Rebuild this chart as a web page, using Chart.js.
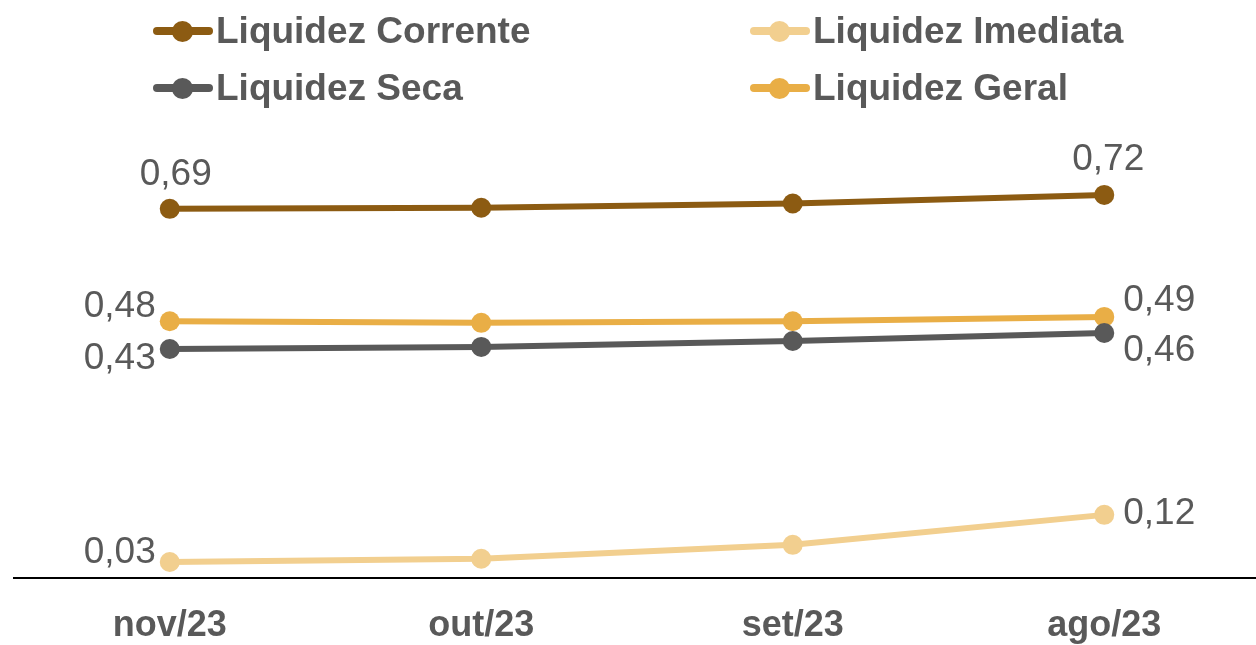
<!DOCTYPE html>
<html>
<head>
<meta charset="utf-8">
<script src="https://cdn.jsdelivr.net/npm/chart.js@4.4.0/dist/chart.umd.min.js"></script>
<style>
    html, body { margin: 0; padding: 0; background: #fff; overflow: hidden; }
    #wrap { position: relative; width: 1256px; height: 645px; overflow: hidden; }
    #legend { position: absolute; left: 0; top: 0; width: 1256px; height: 120px; }
    .leg-item {
        position: absolute; display: flex; align-items: center; height: 40px;
        font-family: 'Liberation Sans', Arial, sans-serif; font-weight: bold;
        font-size: 37px; color: #595959; white-space: nowrap;
    }
    .leg-mark { position: relative; width: 60px; height: 8px; border-radius: 4px; margin-right: 3px; }
    .leg-mark span {
        position: absolute; left: 19px; top: -6.5px; width: 21px; height: 21px; border-radius: 50%;
    }
    canvas { position: absolute; left: 0; top: 0; }
</style>
</head>
<body>
<div id="wrap">
    <!-- canvas a little wider than the page: the axis runs off the right edge -->
    <canvas id="chart" width="1260" height="645"></canvas>
    <div id="legend"></div>
</div>
<script>
// Data
const categories = ['nov/23', 'out/23', 'set/23', 'ago/23'];
const seriesNames = ['Liquidez Corrente', 'Liquidez Imediata', 'Liquidez Seca', 'Liquidez Geral'];
const corrente = [0.69, 0.692, 0.70, 0.716];
const imediata = [0.03, 0.036, 0.062, 0.118];
const seca = [0.428, 0.432, 0.443, 0.458];
const geral = [0.48, 0.477, 0.48, 0.488];

const colors = ['#8C5B12', '#F2CF8F', '#595959', '#E9AE46'];
const textColor = '#595959';
const fontFamily = "'Liberation Sans', Arial, sans-serif";

// label placement for first / last point: [dx, dy, align]
const labelPos = [
    { first: [6, -37, 'center'], last: [4, -38, 'center'] },
    { first: [-14, -12, 'right'], last: [19, -4, 'left'] },
    { first: [-14, 7, 'right'], last: [19, 15, 'left'] },
    { first: [-14, -17, 'right'], last: [19, -19, 'left'] }
];

// legend positions (two columns, two rows)
const legendPos = [[153, 11], [750, 11], [153, 68], [750, 68]];

function fmt(v) {
    return v.toFixed(2).replace('.', ',');
}

// HTML legend
const legendEl = document.getElementById('legend');
seriesNames.forEach((name, i) => {
    const item = document.createElement('div');
    item.className = 'leg-item';
    item.style.left = legendPos[i][0] + 'px';
    item.style.top = legendPos[i][1] + 'px';
    item.innerHTML = `<div class="leg-mark" style="background:${colors[i]}"><span style="background:${colors[i]}"></span></div>${name}`;
    legendEl.appendChild(item);
});

// Data labels on first and last point
const endLabels = {
    id: 'endLabels',
    afterDatasetsDraw(chart) {
        const ctx = chart.ctx;
        ctx.save();
        ctx.font = '37px ' + fontFamily;
        ctx.fillStyle = textColor;
        ctx.textBaseline = 'alphabetic';
        chart.data.datasets.forEach((ds, i) => {
            const meta = chart.getDatasetMeta(i);
            const n = ds.data.length;
            [['first', 0], ['last', n - 1]].forEach(([key, idx]) => {
                const pt = meta.data[idx];
                const [dx, dy, align] = labelPos[i][key];
                ctx.textAlign = align;
                ctx.fillText(fmt(ds.data[idx]), pt.x + dx, pt.y + dy + 13);
            });
        });
        ctx.restore();
    }
};

const allSeries = [corrente, imediata, seca, geral];

new Chart(document.getElementById('chart').getContext('2d'), {
    type: 'line',
    data: {
        labels: categories,
        datasets: allSeries.map((d, i) => ({
            label: seriesNames[i],
            data: d,
            borderColor: colors[i],
            backgroundColor: colors[i],
            pointBackgroundColor: colors[i],
            pointBorderColor: colors[i],
            borderWidth: 6,
            pointRadius: 10,
            pointBorderWidth: 0,
            tension: 0,
            clip: false
        }))
    },
    options: {
        responsive: false,
        animation: false,
        devicePixelRatio: 1,
        layout: { autoPadding: false, padding: { top: 150, left: 14, right: 0, bottom: 0 } },
        plugins: {
            legend: { display: false },
            tooltip: { enabled: false }
        },
        scales: {
            x: {
                offset: true,
                grid: { display: false, drawTicks: false },
                border: { display: true, color: '#000', width: 2 },
                ticks: {
                    color: textColor,
                    padding: 26,
                    font: { family: fontFamily, size: 36, weight: 'bold' }
                },
                afterFit: s => {
                    s.height = 67;
                    s.paddingLeft = 0;
                    s.paddingRight = 0;
                }
            },
            y: {
                display: false,
                min: 0,
                max: 0.8
            }
        }
    },
    plugins: [endLabels]
});
</script>
</body>
</html>
